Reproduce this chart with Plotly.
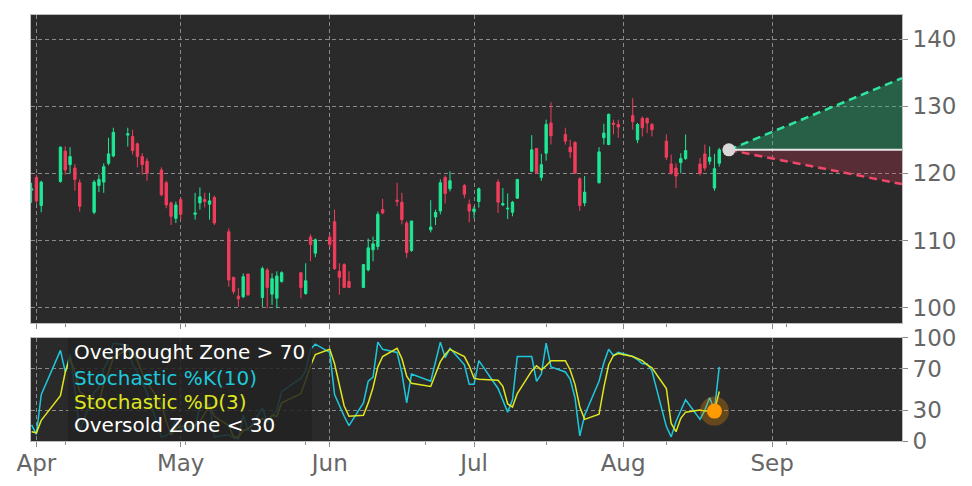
import pandas as pd
import plotly.graph_objects as go

# ---------------- data ----------------
holidays = ['2026-04-03', '2026-05-25', '2026-06-19', '2026-07-03']
dates = [d for d in pd.bdate_range('2026-03-31', '2026-08-21')
         if d.strftime('%Y-%m-%d') not in holidays]

open_ = [117.5, 119.4, 115.2,
         118.8, 123.3, 121.3, 120.8, 118.6,
         114.2, 118.2, 118.7, 121.5, 122.6,
         125.7, 125.5, 124.4, 122.5, 121.8,
         120.5, 118.6, 115.6, 113.3, 116.1,
         113.9, 115.6, 116.1, 115.4, 116.4,
         111.3, 104.5, 101.7, 101.6, 105.0,
         101.5, 105.6, 102.0, 101.4, 103.9,
         105.2, 102.1, 110.5, 108.1,
         110.5, 112.8, 105.4, 106.4, 103.9,
         103.0, 105.6, 108.6, 109.1, 114.6,
         116.0, 115.7, 112.6, 108.5,
         111.6, 113.5, 114.4, 119.4, 117.7,
         118.2, 115.4, 114.3, 115.8,
         118.7, 115.3, 114.7, 114.2, 116.3,
         120.3, 123.7, 119.4, 123.0, 127.5,
         125.8, 123.9, 124.6, 119.2, 115.6,
         118.6, 125.3, 124.3, 127.5, 127.3,
         128.6, 125.0, 128.2, 128.2, 127.3,
         124.8, 121.4, 120.8, 121.6, 122.2,
         121.4, 122.9, 121.8, 117.8, 121.5]
high = [118.6, 119.8, 118.9,
        124.0, 124.0, 123.9, 121.4, 119.1,
        119.0, 119.8, 121.5, 125.3, 126.8,
        126.8, 126.5, 124.6, 123.0, 122.3,
        120.9, 118.9, 115.8, 115.8, 116.3,
        117.1, 117.9, 117.1, 117.1, 116.7,
        111.8, 104.6, 102.9, 105.1, 105.0,
        106.1, 105.9, 105.1, 105.4, 105.4,
        105.2, 106.6, 110.9, 110.3,
        111.0, 114.6, 106.6, 106.6, 105.4,
        106.5, 110.3, 110.6, 114.3, 116.2,
        118.6, 117.1, 112.9, 112.9,
        116.0, 114.6, 119.1, 119.7, 120.3,
        118.4, 116.1, 115.1, 117.9,
        119.1, 117.8, 117.0, 115.9, 119.1,
        125.7, 123.8, 122.9, 128.0, 130.6,
        126.8, 125.0, 124.8, 119.4, 119.6,
        123.9, 127.4, 128.9, 128.0, 128.0,
        131.2, 127.5, 128.5, 128.3, 127.5,
        125.8, 122.8, 121.5, 123.0, 125.8,
        122.3, 124.3, 124.0, 122.9, 123.8]
low = [115.6, 115.5, 114.2,
       118.6, 119.8, 120.0, 117.4, 114.3,
       113.9, 117.2, 117.1, 121.2, 122.4,
       124.0, 122.8, 120.9, 119.8, 118.9,
       116.6, 114.8, 112.3, 112.6, 113.1,
       113.1, 114.6, 114.9, 113.1, 112.3,
       103.1, 102.0, 100.1, 101.4, 101.7,
       100.1, 99.9, 100.4, 99.9, 103.7,
       101.4, 101.9, 106.9, 107.5,
       108.9, 105.6, 101.9, 102.9, 102.9,
       102.9, 105.4, 106.9, 108.6, 113.9,
       115.1, 112.4, 107.4, 108.3,
       111.2, 112.3, 113.9, 115.5, 117.3,
       116.3, 112.7, 113.3, 114.9,
       114.1, 115.1, 113.2, 113.6, 116.2,
       120.2, 119.9, 118.9, 121.9, 124.3,
       124.3, 122.3, 119.9, 114.4, 115.1,
       118.5, 124.3, 124.2, 125.8, 125.3,
       126.5, 124.5, 125.5, 126.0, 125.5,
       122.0, 119.8, 117.8, 120.0, 122.0,
       119.7, 120.4, 121.3, 117.4, 121.0]
close = [117.7, 115.9, 118.7,
         123.9, 120.5, 122.5, 119.1, 115.1,
         118.7, 119.1, 121.0, 122.9, 126.1,
         125.9, 123.4, 122.5, 121.3, 120.0,
         116.8, 115.3, 113.6, 115.3, 113.9,
         114.1, 116.5, 115.8, 115.9, 112.6,
         104.1, 102.4, 101.3, 104.6, 101.9,
         105.8, 103.0, 104.3, 104.7, 105.2,
         103.0, 104.0, 109.4, 110.1,
         109.4, 105.8, 104.5, 103.0, 103.0,
         106.4, 108.9, 109.5, 113.9, 114.1,
         115.8, 113.1, 108.2, 112.9,
         112.0, 114.2, 118.6, 117.0, 118.9,
         116.9, 114.4, 114.7, 117.7,
         115.7, 115.5, 114.8, 115.7, 119.1,
         123.5, 120.1, 121.3, 127.3, 125.6,
         124.8, 123.2, 120.0, 115.2, 117.2,
         123.2, 126.0, 128.8, 127.3, 126.9,
         127.7, 127.3, 126.8, 127.5, 126.5,
         122.4, 120.0, 119.6, 122.2, 123.4,
         120.0, 120.8, 122.4, 120.7, 123.5]

stoch_k = [15.6, 6.5, 45,
           88, 67, 84, 50, 10,
           47, 52, 70, 79, 95,
           93, 74, 67, 57, 47,
           4, 5, 9, 21, 11,
           13, 34, 33, 36, 4,
           6, 3, 2, 25, 10,
           32, 18, 24, 30, 48,
           61, 68, 89, 94,
           86, 45, 34, 24, 15,
           37, 58, 62, 96, 89,
           86, 66, 37, 65,
           58, 76, 96, 81, 90,
           74, 55, 55, 78,
           51, 40, 28, 40, 82,
           82, 58, 65, 95, 72,
           67, 60, 42, 5, 25,
           58, 76, 89, 83, 86,
           82, 79, 75, 75, 68,
           14, 4, 19, 30, 40,
           21, 30, 42, 30, 72]
stoch_d = [9, 8, 20,
           44, 67, 80, 67, 48,
           36, 36, 56, 67, 81,
           89, 87, 78, 66, 57,
           36, 19, 6, 12, 14,
           15, 19, 27, 34, 24,
           15, 4, 4, 10, 12,
           22, 20, 25, 24, 37,
           46, 59, 73, 84,
           89, 75, 55, 34, 24,
           25, 37, 52, 72, 82,
           90, 80, 63, 56,
           53, 66, 77, 84, 89,
           82, 73, 61, 60,
           59, 53, 36, 33, 46,
           68, 73, 69, 73, 78,
           78, 69, 55, 33, 21,
           26, 52, 74, 83, 85,
           82, 80, 78, 74, 71,
           51, 17, 9, 22, 28,
           30, 29, 29, 29, 48]

signal_date = ['2026-08-20']
signal_value = [29]

proj_dates = ['2026-08-23', '2026-09-28']
proj_mid = [123.5, 123.5]
proj_up = [123.5, 134.2]
proj_lo = [123.5, 118.4]

month_ticks = ['2026-04-01', '2026-05-01', '2026-06-01', '2026-07-01', '2026-08-01', '2026-09-01']
minor_ticks = ['2026-04-07', '2026-05-02', '2026-05-27', '2026-06-21', '2026-07-16', '2026-08-10', '2026-09-04']
price_ticks = [100, 110, 120, 130, 140]
stoch_ticks = [0, 30, 70, 100]

# ---------------- style ----------------
GREEN = '#1ee896'
RED = '#f23d5c'
CYAN = '#1ec8dc'
YELLOW = '#dfe61e'
BG = '#2a2a2a'
GRID = '#8a8a8a'
TICKC = '#666666'
FONT = 'DejaVu Sans'
XR = ['2026-03-30 21:00', '2026-09-28 00:00']

fig = go.Figure()

fig.add_trace(go.Candlestick(
    x=dates, open=open_, high=high, low=low, close=close,
    increasing=dict(line=dict(color=GREEN, width=1), fillcolor=GREEN),
    decreasing=dict(line=dict(color=RED, width=1), fillcolor=RED),
    whiskerwidth=0, xaxis='x', yaxis='y', showlegend=False, hoverinfo='skip'))

# projection cone
fig.add_trace(go.Scatter(x=proj_dates, y=proj_lo, mode='lines', line=dict(width=0),
                         xaxis='x', yaxis='y', showlegend=False, hoverinfo='skip'))
fig.add_trace(go.Scatter(x=proj_dates, y=proj_mid, mode='lines', line=dict(width=0),
                         fill='tonexty', fillcolor='rgba(240,60,90,0.24)',
                         xaxis='x', yaxis='y', showlegend=False, hoverinfo='skip'))
fig.add_trace(go.Scatter(x=proj_dates, y=proj_up, mode='lines', line=dict(width=0),
                         fill='tonexty', fillcolor='rgba(35,190,125,0.36)',
                         xaxis='x', yaxis='y', showlegend=False, hoverinfo='skip'))
fig.add_trace(go.Scatter(x=proj_dates, y=proj_up, mode='lines',
                         line=dict(color='#2ee6a0', width=2.5, dash='8px,5px'),
                         xaxis='x', yaxis='y', showlegend=False, hoverinfo='skip'))
fig.add_trace(go.Scatter(x=proj_dates, y=proj_lo, mode='lines',
                         line=dict(color='#f0476a', width=2.5, dash='8px,5px'),
                         xaxis='x', yaxis='y', showlegend=False, hoverinfo='skip'))
fig.add_trace(go.Scatter(x=proj_dates, y=proj_mid, mode='lines',
                         line=dict(color='#e6e6e6', width=2),
                         xaxis='x', yaxis='y', showlegend=False, hoverinfo='skip'))
fig.add_trace(go.Scatter(x=proj_dates[:1], y=proj_mid[:1], mode='markers',
                         marker=dict(color='#d9d9d9', size=13),
                         xaxis='x', yaxis='y', showlegend=False, hoverinfo='skip'))

# stochastic
fig.add_trace(go.Scatter(x=dates, y=stoch_k, mode='lines', line=dict(color=CYAN, width=1.5),
                         xaxis='x2', yaxis='y2', showlegend=False, hoverinfo='skip'))
fig.add_trace(go.Scatter(x=dates, y=stoch_d, mode='lines', line=dict(color=YELLOW, width=1.5),
                         xaxis='x2', yaxis='y2', showlegend=False, hoverinfo='skip'))
fig.add_trace(go.Scatter(x=signal_date, y=signal_value, mode='markers',
                         marker=dict(color='rgba(255,150,0,0.28)', size=29),
                         xaxis='x2', yaxis='y2', showlegend=False, hoverinfo='skip'))
fig.add_trace(go.Scatter(x=signal_date, y=signal_value, mode='markers',
                         marker=dict(color='#ff9a00', size=15),
                         xaxis='x2', yaxis='y2', showlegend=False, hoverinfo='skip'))

xcommon = dict(type='date', range=XR, tickvals=month_ticks, ticks='outside', ticklen=5,
               tickcolor='#888888', showgrid=True, gridcolor=GRID, griddash='4px,3px', gridwidth=1,
               showline=True, mirror=True, linecolor='#bdbdbd', linewidth=1, zeroline=False,
               automargin=False,
               minor=dict(tickvals=minor_ticks, ticks='outside', ticklen=3, tickcolor='#888888',
                          showgrid=False))
ycommon = dict(side='right', ticks='outside', ticklen=5, tickcolor='#888888',
               showgrid=True, gridcolor=GRID, griddash='4px,3px', gridwidth=1,
               showline=True, mirror=True, linecolor='#bdbdbd', linewidth=1, zeroline=False,
               automargin=False,
               tickfont=dict(family=FONT, size=23, color=TICKC))

# page body has an 8px margin; size the figure so the plot areas land where they should
fig.update_layout(
    width=956, height=478,
    margin=dict(l=23, r=62, t=7, b=45),
    paper_bgcolor='white', plot_bgcolor=BG,
    font=dict(family=FONT),
    xaxis=dict(domain=[0, 1], anchor='y', showticklabels=False,
               rangeslider=dict(visible=False), **xcommon),
    xaxis2=dict(domain=[0, 1], anchor='y2', showticklabels=True, tickformat='%b',
                ticklabelstandoff=-4,
                tickfont=dict(family=FONT, size=23, color=TICKC), **xcommon),
    yaxis=dict(domain=[0.277, 1], anchor='x', range=[97.7, 143.6], tickvals=price_ticks, **ycommon),
    yaxis2=dict(domain=[0, 0.2418], anchor='x2', range=[0, 100], tickvals=stoch_ticks, **ycommon),
    showlegend=False,
)

# legend box over the stochastic panel
fig.add_shape(type='rect', xref='x2 domain', yref='y2 domain', x0=0.0425, x1=0.3226, y0=0, y1=1,
              fillcolor='rgba(34,34,34,0.85)', line=dict(width=0), layer='above')

legend_items = [('Overbought Zone > 70', '#ffffff', 0.864),
                ('Stochastic %K(10)', CYAN, 0.612),
                ('Stochastic %D(3)', YELLOW, 0.379),
                ('Oversold Zone < 30', '#ffffff', 0.155)]
for txt, col, yy in legend_items:
    fig.add_annotation(text=txt, xref='x2 domain', yref='y2 domain', x=0.047, y=yy,
                       xanchor='left', yanchor='middle', showarrow=False,
                       font=dict(family=FONT, size=20, color=col))

fig.write_html('out.html')
